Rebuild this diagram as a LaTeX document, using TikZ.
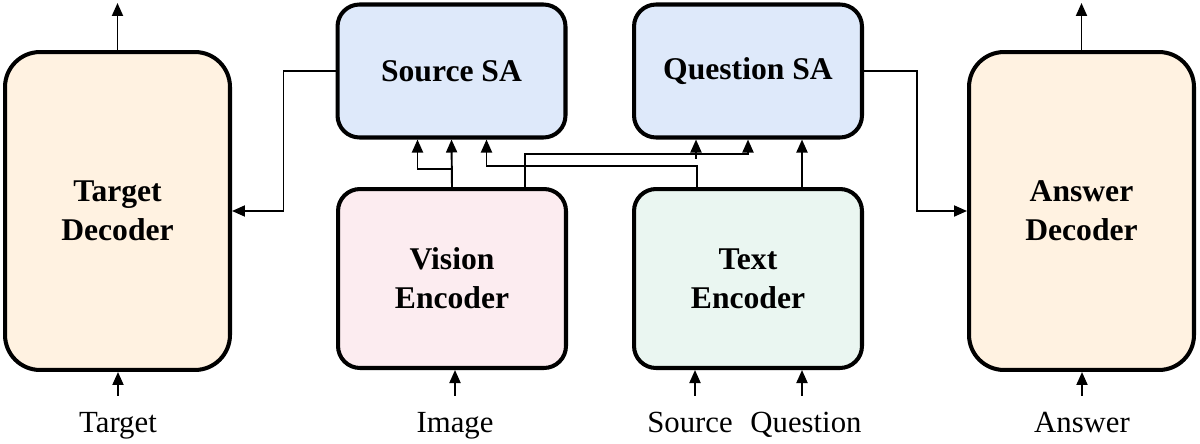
\documentclass[tikz,border=0pt]{standalone}
\usepackage{fontspec}
\setmainfont{Liberation Serif}
\usepackage{tikz}
\usepackage{xcolor}
\usetikzlibrary{arrows.meta, positioning, calc}
\definecolor{cDec}{RGB}{255,242,225}
\definecolor{cSA}{RGB}{222,233,250}
\definecolor{cVis}{RGB}{252,236,240}
\definecolor{cTxt}{RGB}{234,246,241}
\tikzset{
	decoder/.style ={rectangle, rounded corners=0.7cm, draw=black, line width=2.3pt, minimum width=4.5cm, minimum height=6.36cm, align=center, fill=cDec, font=\fontsize{18}{22}\selectfont\bfseries},
	block/.style   ={rectangle, rounded corners=0.44cm, draw=black, line width=2.3pt, minimum width=4.56cm, align=center, font=\fontsize{18}{22}\selectfont\bfseries},
	sablk/.style   ={block, minimum height=2.66cm, fill=cSA},
	encblk/.style  ={block, minimum height=3.58cm},
	lbl/.style     ={font=\fontsize{17.5}{20}\selectfont, inner sep=0pt, outer ysep=0.32cm, anchor=base},
	sig/.style     ={-{Triangle[length=2.6mm, width=2.2mm]}, line width=1.1pt},
}
\begin{document}
\begin{tikzpicture}[x=0.02cm, y=-0.02cm]
	\useasboundingbox (0,0) rectangle (1200,443);
	% blocks
	\node[decoder] (tgt) at (117.5,211) {Target\\Decoder};
	\node[decoder] (ans) at (1081.5,211) {Answer\\Decoder};
	\node[sablk] (src) at (451.5,71) {Source SA};
	\node[sablk] (qsa) at (748,71) {Question SA};
	\node[encblk, fill=cVis] (vis) at (452,278.5) {Vision\\Encoder};
	\node[encblk, fill=cTxt] (txt) at (748,278.5) {Text\\Encoder};
	% inputs
	\node[lbl] (lTgt) at (118,432) {Target};
	\node[lbl] (lImg) at (455,432) {Image};
	\node[lbl] (lSrc) at (690,432) {Source};
	\node[lbl] (lQst) at (806,432) {Question};
	\node[lbl] (lAns) at (1082,432) {Answer};
	\draw[sig] (lTgt.north) -- (lTgt.north |- tgt.south);
	\draw[sig] (lImg.north) -- (lImg.north |- vis.south);
	\draw[sig] ($(lSrc.north)+(5,0)$) -- ($(lSrc.north |- txt.south)+(5,0)$);
	\draw[sig] ($(lQst.north)+(-4,0)$) -- ($(lQst.north |- txt.south)+(-4,0)$);
	\draw[sig] (lAns.north) -- (lAns.north |- ans.south);
	% outputs
	\coordinate (tgtOut) at (117.5,3);
	\coordinate (ansOut) at (1081.5,3);
	\draw[sig] (tgt.north) -- (tgtOut);
	\draw[sig] (ans.north) -- (ansOut);
	% encoders to SA blocks
	\draw[sig] (vis.north) -- (src.south);
	\draw[sig] (vis.north) ++(0,-18) -| ($(src.south)+(-34,0)$);
	\draw[sig] ($(vis.north)+(73,0)$) -- ++(0,-33) -| (qsa.south);
	\draw[sig] ($(qsa.south)+(-52,19)$) -- ($(qsa.south)+(-52,0)$);
	\draw[sig] ($(txt.north)+(-51,0)$) -- ++(0,-21) -| ($(src.south)+(35,0)$);
	\draw[sig] ($(txt.north)+(54,0)$) -- ($(qsa.south)+(54,0)$);
	% SA blocks to decoders
	\draw[sig] (src.west) -- ++(-52,0) |- (tgt.east);
	\draw[sig] (qsa.east) -- ++(53,0) |- (ans.west);
\end{tikzpicture}
\end{document}
